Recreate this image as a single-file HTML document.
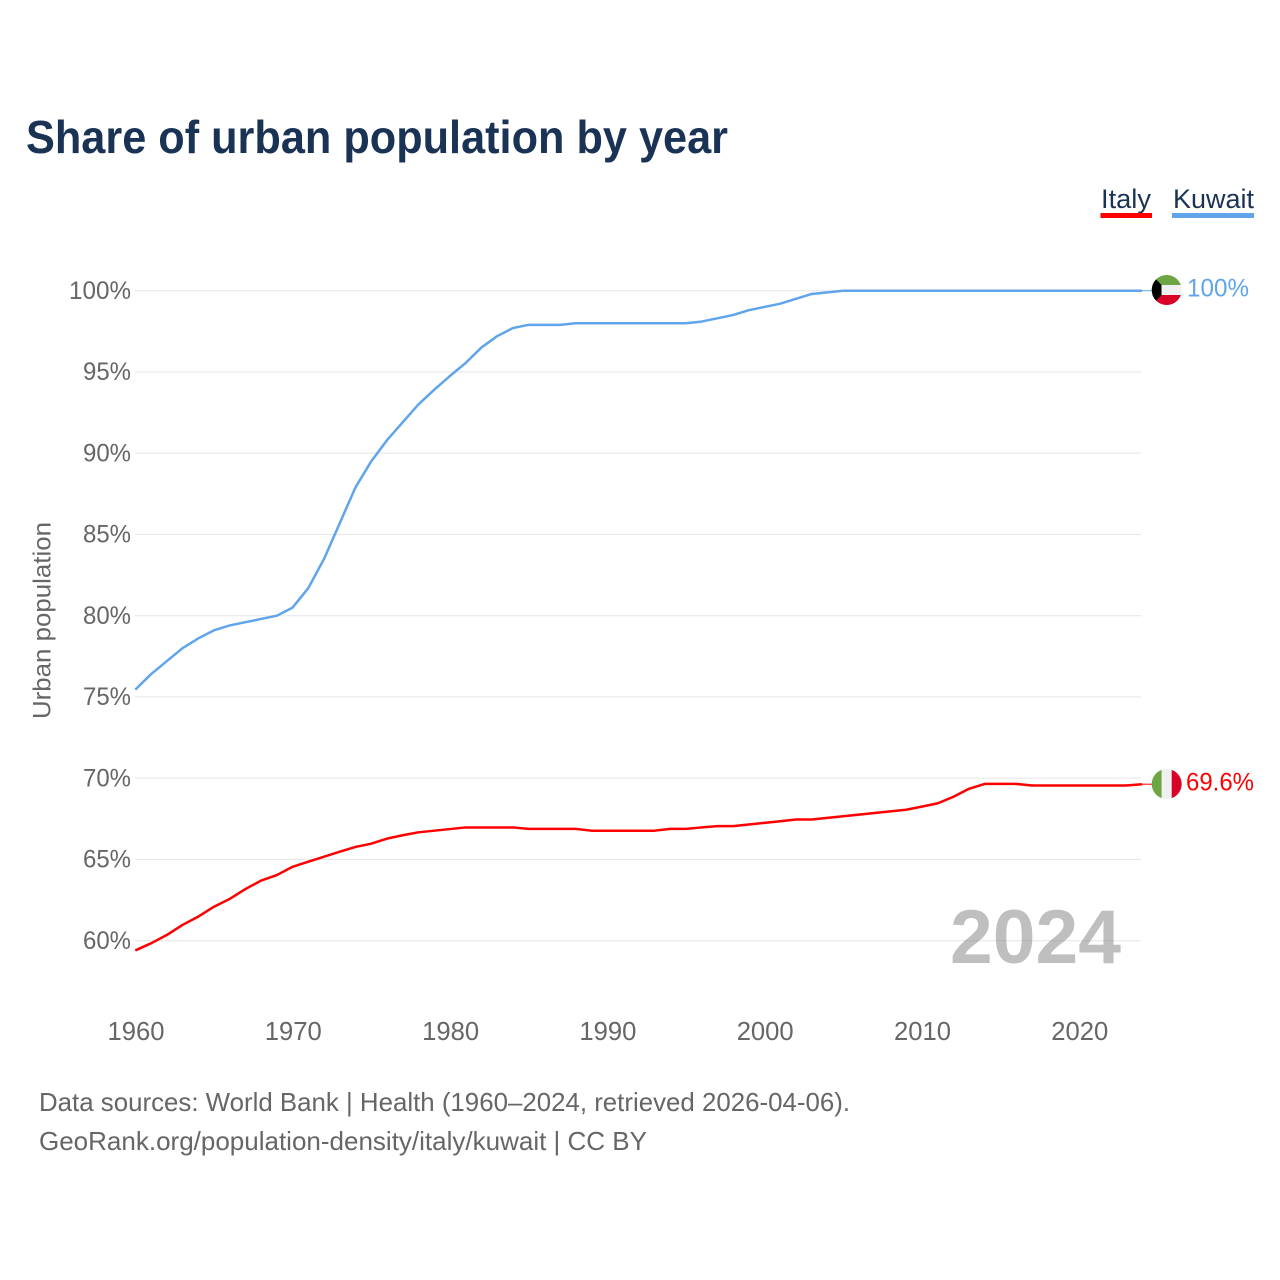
<!DOCTYPE html>
<html lang="en">
<head>
<meta charset="utf-8">
<title>Share of urban population by year</title>
<style>
html,body{margin:0;padding:0;background:#fff;width:1280px;height:1280px;overflow:hidden}
svg{display:block}
text{font-family:"Liberation Sans",sans-serif}
</style>
</head>
<body>
<svg id="chart" xmlns="http://www.w3.org/2000/svg" width="1280" height="1280" viewBox="0 0 1280 1280">
  <rect width="1280" height="1280" fill="#fff"/>
  <text x="26" y="153" font-size="46" font-weight="700" fill="#1a3355" textLength="702" lengthAdjust="spacingAndGlyphs">Share of urban population by year</text>

  <g>
    <g>
      <text x="1101" y="208" font-size="27" fill="#1a3355" textLength="50" lengthAdjust="spacingAndGlyphs">Italy</text>
      <rect x="1100.5" y="213" width="51.5" height="5" fill="#ff0000"/>
    </g>
    <g>
      <text x="1173" y="208" font-size="27" fill="#1a3355" textLength="81" lengthAdjust="spacingAndGlyphs">Kuwait</text>
      <rect x="1172" y="213" width="82" height="5" fill="#60a5ec"/>
    </g>
  </g>

  <g id="grid"></g>
  <g id="yticks"></g>
  <g id="xticks"></g>

  <text transform="translate(50.5 719) rotate(-90)" font-size="25" fill="#666" textLength="197" lengthAdjust="spacingAndGlyphs">Urban population</text>

  <text x="950" y="963" font-size="76" font-weight="700" fill="#808080" fill-opacity="0.5" textLength="171" lengthAdjust="spacingAndGlyphs">2024</text>

  <g id="series"></g>

  <defs>
    <clipPath id="flag-clip-kuwait"><circle cx="1166.7" cy="290" r="15"/></clipPath>
    <clipPath id="flag-clip-italy"><circle cx="1166.7" cy="784" r="15"/></clipPath>
  </defs>

  <g clip-path="url(#flag-clip-kuwait)">
    <rect x="1151" y="275" width="32" height="10" fill="#6da544"/>
    <rect x="1151" y="285" width="32" height="10" fill="#f0f0f0"/>
    <rect x="1151" y="295" width="32" height="10" fill="#d80027"/>
    <polygon points="1151,275 1152,275 1161.5,285 1161.5,295 1152,305 1151,305" fill="#000"/>
  </g>
  <text x="1187" y="296.7" font-size="25" fill="#60a5ec" textLength="62" lengthAdjust="spacingAndGlyphs">100%</text>

  <g clip-path="url(#flag-clip-italy)">
    <rect x="1151" y="769" width="10.7" height="30" fill="#6da544"/>
    <rect x="1161.7" y="769" width="10" height="30" fill="#f0f0f0"/>
    <rect x="1171.7" y="769" width="11" height="30" fill="#d80027"/>
  </g>
  <text x="1186" y="790.7" font-size="25" fill="#ff0000" textLength="68" lengthAdjust="spacingAndGlyphs">69.6%</text>

  <g>
    <text x="39" y="1111" font-size="26" fill="#666" textLength="811" lengthAdjust="spacingAndGlyphs">Data sources: World Bank | Health (1960–2024, retrieved 2026-04-06).</text>
    <text x="39" y="1150" font-size="26" fill="#666" textLength="608" lengthAdjust="spacingAndGlyphs">GeoRank.org/population-density/italy/kuwait | CC BY</text>
  </g>
</svg>

<script>
const startYear = 1960;
const xTickYears = [1960, 1970, 1980, 1990, 2000, 2010, 2020];
const yTickValues = [60, 65, 70, 75, 80, 85, 90, 95, 100];
const kuwaitValues = [
  75.45, 76.4, 77.2, 78.0, 78.6, 79.1, 79.4, 79.6, 79.8, 80.0,
  80.5, 81.7, 83.5, 85.7, 87.9, 89.5, 90.8, 91.9, 93.0, 93.9,
  94.75, 95.55, 96.5, 97.2, 97.7, 97.9, 97.9, 97.9, 98.0, 98.0,
  98.0, 98.0, 98.0, 98.0, 98.0, 98.0, 98.1, 98.3, 98.5, 98.8,
  99.0, 99.2, 99.5, 99.8, 99.9, 100, 100, 100, 100, 100,
  100, 100, 100, 100, 100, 100, 100, 100, 100, 100,
  100, 100, 100, 100, 100
];
const italyValues = [
  59.4, 59.84, 60.35, 60.97, 61.48, 62.09, 62.57, 63.18, 63.7, 64.04,
  64.55, 64.86, 65.17, 65.48, 65.77, 65.97, 66.28, 66.49, 66.67, 66.77,
  66.87, 66.97, 66.97, 66.97, 66.97, 66.88, 66.88, 66.88, 66.88, 66.77,
  66.77, 66.77, 66.77, 66.77, 66.88, 66.88, 66.97, 67.05, 67.05, 67.15,
  67.25, 67.35, 67.46, 67.46, 67.56, 67.66, 67.76, 67.86, 67.96, 68.06,
  68.25, 68.45, 68.85, 69.35, 69.65, 69.65, 69.65, 69.55, 69.55, 69.55,
  69.55, 69.55, 69.55, 69.55, 69.63
];

const SVG_NS = 'http://www.w3.org/2000/svg';
function xScale(year) { return 135.3 + (year - 1960) * (1142 - 135.3) / 64; }
function yScale(value) { return 290.7 + (100 - value) * 16.25; }

const gridGroup = document.getElementById('grid');
const yTickGroup = document.getElementById('yticks');
const xTickGroup = document.getElementById('xticks');
const seriesGroup = document.getElementById('series');

yTickValues.forEach(function (v) {
  const line = document.createElementNS(SVG_NS, 'line');
  
  
  line.setAttribute('x1', 135);
  line.setAttribute('x2', 1141);
  line.setAttribute('y1', yScale(v));
  line.setAttribute('y2', yScale(v));
  line.setAttribute('stroke', '#e8e8e8');
  line.setAttribute('stroke-width', 1.2);
  gridGroup.appendChild(line);

  const label = document.createElementNS(SVG_NS, 'text');
  
  
  label.setAttribute('x', 131);
  label.setAttribute('y', yScale(v) + 8.1);
  label.setAttribute('text-anchor', 'end');
  label.setAttribute('font-size', 25);
  label.setAttribute('fill', '#666');
  label.setAttribute('textLength', v === 100 ? 62 : 48);
  label.setAttribute('lengthAdjust', 'spacingAndGlyphs');
  label.textContent = v + '%';
  yTickGroup.appendChild(label);
});

xTickYears.forEach(function (year) {
  const label = document.createElementNS(SVG_NS, 'text');
  
  
  label.setAttribute('x', xScale(year) + 0.7);
  label.setAttribute('y', 1040);
  label.setAttribute('text-anchor', 'middle');
  label.setAttribute('font-size', 25.5);
  label.setAttribute('fill', '#666');
  label.setAttribute('textLength', 57);
  label.setAttribute('lengthAdjust', 'spacingAndGlyphs');
  label.textContent = String(year);
  xTickGroup.appendChild(label);
});

function pathFor(values) {
  return values.map(function (v, i) {
    return (i === 0 ? 'M' : 'L') + xScale(startYear + i).toFixed(2) + ' ' + yScale(v).toFixed(2);
  }).join(' ');
}

function lastPoint(values) {
  const i = values.length - 1;
  return { x: xScale(startYear + i), y: yScale(values[i]) };
}

const kuwaitLine = document.createElementNS(SVG_NS, 'path');


kuwaitLine.setAttribute('d', pathFor(kuwaitValues));
kuwaitLine.setAttribute('fill', 'none');
kuwaitLine.setAttribute('stroke', '#60a5ec');
kuwaitLine.setAttribute('stroke-width', 2.5);
kuwaitLine.setAttribute('stroke-linejoin', 'round');
seriesGroup.appendChild(kuwaitLine);

const italyLine = document.createElementNS(SVG_NS, 'path');


italyLine.setAttribute('d', pathFor(italyValues));
italyLine.setAttribute('fill', 'none');
italyLine.setAttribute('stroke', '#ff0000');
italyLine.setAttribute('stroke-width', 2.5);
italyLine.setAttribute('stroke-linejoin', 'round');
seriesGroup.appendChild(italyLine);

const kuwaitEnd = lastPoint(kuwaitValues);
const kuwaitConnector = document.createElementNS(SVG_NS, 'line');


kuwaitConnector.setAttribute('x1', kuwaitEnd.x);
kuwaitConnector.setAttribute('y1', kuwaitEnd.y);
kuwaitConnector.setAttribute('x2', 1152);
kuwaitConnector.setAttribute('y2', kuwaitEnd.y);
kuwaitConnector.setAttribute('stroke', '#60a5ec');
kuwaitConnector.setAttribute('stroke-width', 1);
seriesGroup.appendChild(kuwaitConnector);

const italyEnd = lastPoint(italyValues);
const italyConnector = document.createElementNS(SVG_NS, 'line');


italyConnector.setAttribute('x1', italyEnd.x);
italyConnector.setAttribute('y1', italyEnd.y);
italyConnector.setAttribute('x2', 1152);
italyConnector.setAttribute('y2', italyEnd.y);
italyConnector.setAttribute('stroke', '#ff0000');
italyConnector.setAttribute('stroke-width', 1);
seriesGroup.appendChild(italyConnector);
</script>
</body>
</html>
